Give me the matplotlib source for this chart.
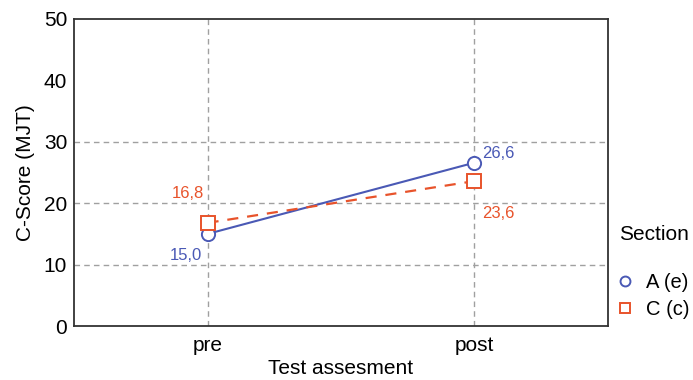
import matplotlib.pyplot as plt
import numpy as np

plt.rcParams['font.family'] = ['Liberation Sans', 'DejaVu Sans']

# Data
stages = ['pre', 'post']
a_scores = [15.0, 26.6]
c_scores = [16.8, 23.6]
a_labels = ['15,0', '26,6']
c_labels = ['16,8', '23,6']
y_ticks = [0, 10, 20, 30, 40, 50]

blue = '#4a59b5'
red = '#e8532b'

fig = plt.figure(figsize=(6.93, 3.8), dpi=100)
ax = fig.add_axes([0.107, 0.142, 0.770, 0.808])

x = np.arange(len(stages))

# grid only at selected levels
for v in [10, 20, 30]:
    ax.axhline(v, color='#a0a0a0', lw=1, ls=(0, (4, 3)), zorder=0)
for xi in x:
    ax.axvline(xi, color='#a0a0a0', lw=1, ls=(0, (4, 3)), zorder=0)

ax.plot(x, a_scores, color=blue, lw=1.5, marker='o', ms=9.5, mfc='white',
        mec=blue, mew=1.4, label='A (e)', zorder=3)
ax.plot(x, c_scores, color=red, lw=1.6, ls=(0, (5, 4)), marker='s', ms=10,
        mfc='white', mec=red, mew=1.4, label='C (c)', zorder=3)

# value labels
ax.text(x[0] - 0.02, a_scores[0] - 2.3, a_labels[0], color=blue, fontsize=12,
        ha='right', va='top')
ax.text(x[1] + 0.03, a_scores[1] + 0.3, a_labels[1], color=blue, fontsize=12,
        ha='left', va='bottom')
ax.text(x[0] - 0.015, c_scores[0] + 3.6, c_labels[0], color=red, fontsize=12,
        ha='right', va='bottom')
ax.text(x[1] + 0.03, c_scores[1] - 4.0, c_labels[1], color=red, fontsize=12,
        ha='left', va='top')

ax.set_xlim(-0.5, 1.5)
ax.set_ylim(0, 50)
ax.set_xticks(x)
ax.set_xticklabels(stages)
ax.set_yticks(y_ticks)
ax.tick_params(length=0, labelsize=15, pad=5)
ax.tick_params(axis='x', labelsize=15, pad=7)

for s in ax.spines.values():
    s.set_color('#333333')
    s.set_linewidth(1.3)

ax.set_xlabel('Test assesment', fontsize=15, labelpad=3)
ax.set_ylabel('C-Score (MJT)', fontsize=15, labelpad=6)

# legend with separate title
fig.text(619 / 693, 1 - 234 / 380, 'Section', fontsize=15, ha='left', va='center')
leg = ax.legend(loc='center left', bbox_to_anchor=(0.890, 0.22),
                bbox_transform=fig.transFigure, frameon=False, fontsize=14.5,
                handlelength=0.8, handletextpad=0.65, labelspacing=0.4,
                markerscale=0.75, borderpad=0, borderaxespad=0)
for h in leg.legend_handles:
    h.set_linestyle('none')

fig.savefig('out.png', dpi=100)
